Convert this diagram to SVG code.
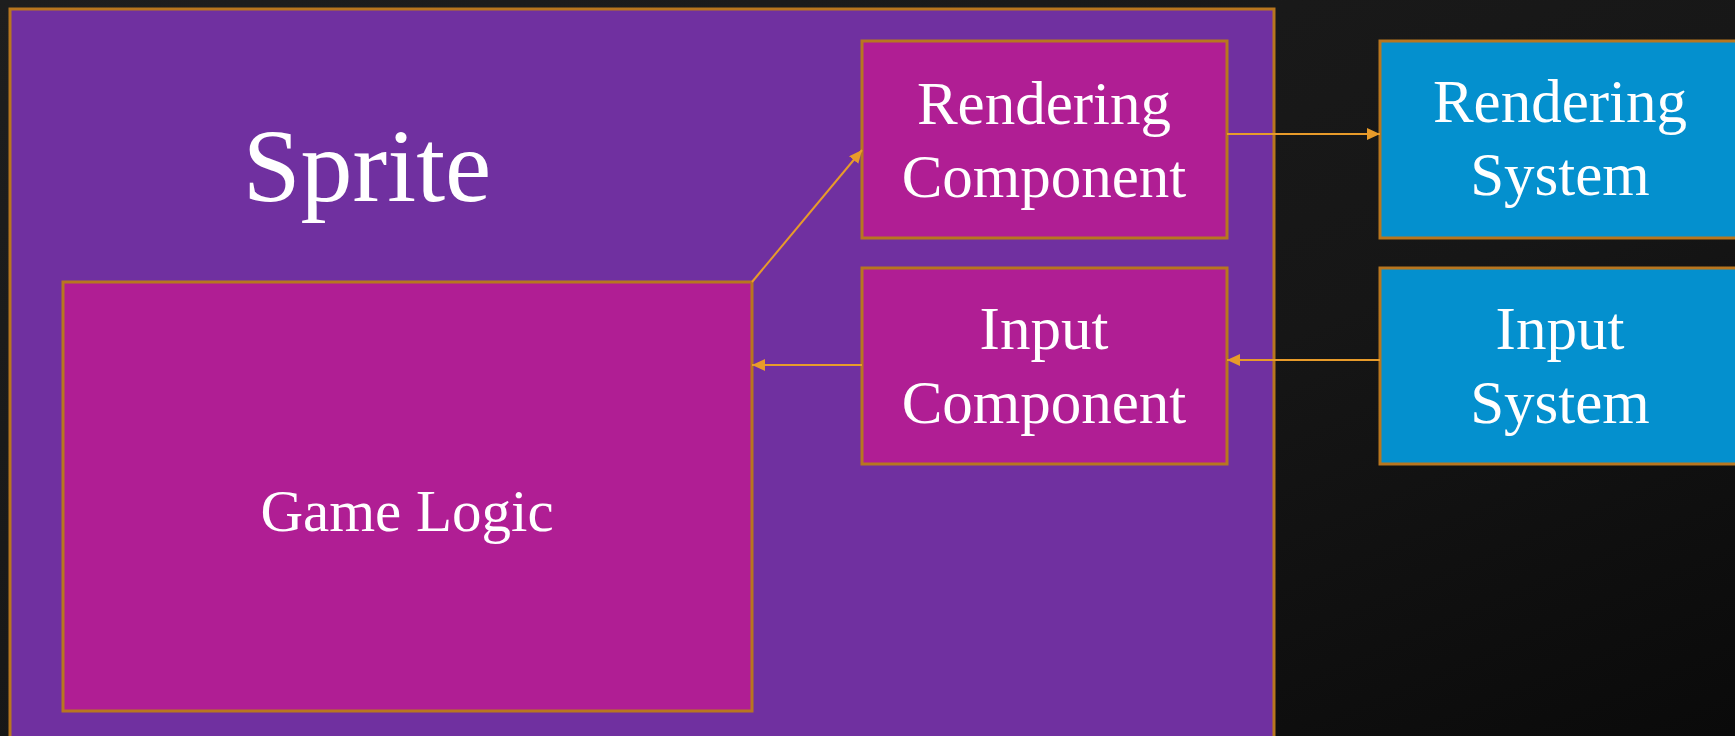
<svg xmlns="http://www.w3.org/2000/svg" width="1735" height="736" viewBox="0 0 1735 736">
<defs>
<linearGradient id="bg" x1="0" y1="0" x2="1" y2="1">
<stop offset="0" stop-color="#1e1e1e"/>
<stop offset="0.6" stop-color="#161616"/>
<stop offset="1" stop-color="#0a0a0a"/>
</linearGradient>
<marker id="arr" markerWidth="13" markerHeight="12" refX="13" refY="6" orient="auto" markerUnits="userSpaceOnUse">
<path d="M0,0 L13,6 L0,12 Z" fill="#E89B2A"/>
</marker>
<style>
.box{stroke:#B8761F;stroke-width:3}
.sprite{fill:#7030A0}
.comp{fill:#B01E94}
.sys{fill:#0490CE}
.t{font-family:"Liberation Serif","DejaVu Serif",serif;fill:#ffffff;text-anchor:middle}
.lbl{font-size:61px}
.conn{stroke:#E89B2A;stroke-width:2;fill:none}
</style>
</defs>
<rect width="1735" height="736" fill="url(#bg)"/>
<g id="sprite">
<rect class="box sprite" x="10" y="9" width="1264" height="740"/>
<text class="t" x="367" y="201" font-size="104">Sprite</text>
</g>
<g id="game-logic">
<rect class="box comp" x="63" y="282" width="689" height="429"/>
<text class="t" x="407" y="531" font-size="59">Game Logic</text>
</g>
<g id="rendering-component">
<rect class="box comp" x="862" y="41" width="365" height="197"/>
<text class="t lbl" x="1044" y="124">Rendering</text>
<text class="t lbl" x="1044" y="197">Component</text>
</g>
<g id="input-component">
<rect class="box comp" x="862" y="268" width="365" height="196"/>
<text class="t lbl" x="1044" y="349">Input</text>
<text class="t lbl" x="1044" y="423">Component</text>
</g>
<g id="rendering-system">
<rect class="box sys" x="1380" y="41" width="362" height="197"/>
<text class="t lbl" x="1560" y="122">Rendering</text>
<text class="t lbl" x="1560" y="195">System</text>
</g>
<g id="input-system">
<rect class="box sys" x="1380" y="268" width="362" height="196"/>
<text class="t lbl" x="1560" y="349">Input</text>
<text class="t lbl" x="1560" y="423">System</text>
</g>
<g id="connectors">
<line class="conn" x1="752" y1="282" x2="862" y2="150" marker-end="url(#arr)"/>
<line class="conn" x1="1227" y1="134" x2="1380" y2="134" marker-end="url(#arr)"/>
<line class="conn" x1="1380" y1="360" x2="1227" y2="360" marker-end="url(#arr)"/>
<line class="conn" x1="862" y1="365" x2="752" y2="365" marker-end="url(#arr)"/>
</g>
</svg>
